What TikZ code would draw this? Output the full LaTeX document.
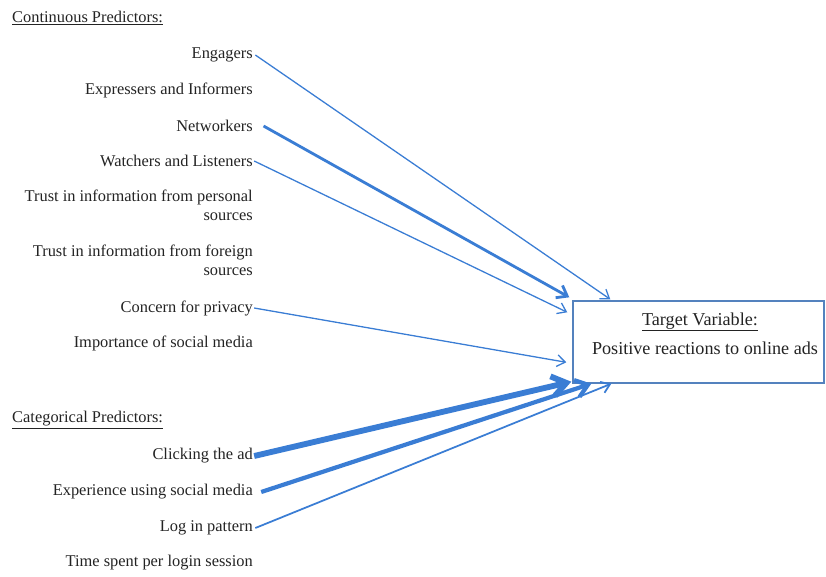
\documentclass[tikz,border=0pt]{standalone}
\usepackage{fontspec}
\setmainfont{Liberation Serif}
\usetikzlibrary{arrows.meta, calc}

\definecolor{arrowblue}{RGB}{58,125,212}
\definecolor{boxblue}{RGB}{84,130,190}
\definecolor{txtgray}{RGB}{35,35,35}

\begin{document}
\begin{tikzpicture}[x=0.03cm, y=-0.03cm,
  % Node styles
  pred/.style={anchor=east, align=right, inner sep=0pt, text=txtgray,
               font=\fontsize{14}{16.5}\selectfont},
  group/.style={anchor=west, inner sep=0pt, text=txtgray,
                font=\fontsize{14}{16.5}\selectfont},
  boxtext/.style={inner sep=0pt, text=txtgray, font=\fontsize{15.5}{18}\selectfont},
  targetbox/.style={draw=boxblue, line width=1.2pt, minimum width=7.53cm,
                    minimum height=2.46cm, inner sep=0pt},
  % Arrow styles
  arr/.style={-{Straight Barb[length=7pt, width=10pt]}, arrowblue, line width=1.1pt},
  midarr/.style={-{Straight Barb[length=8pt, width=12pt]}, arrowblue, line width=2.4pt},
  fatarr/.style={-{Straight Barb[length=10pt, width=15pt]}, arrowblue, line width=3.6pt},
  hugearr/.style={-{Straight Barb[length=12pt, width=17pt]}, arrowblue, line width=5pt},
]
  \useasboundingbox (0,0) rectangle (826,576);

  % ── Group headings ──
  \node[group] (cont) at (12,18) {\underline{Continuous Predictors:}};
  \node[group] (cat) at (12,420) {\underline{Categorical Predictors:}};

  % ── Continuous predictors ──
  \node[pred] (eng) at (253,55) {Engagers};
  \node[pred] (expr) at (253,90) {Expressers and Informers};
  \node[pred] (net) at (253,126) {Networkers};
  \node[pred] (watch) at (253,161) {Watchers and Listeners};
  \node[pred] (perstrust) at (253,205) {Trust in information from personal\\sources};
  \node[pred] (fortrust) at (253,260) {Trust in information from foreign\\sources};
  \node[pred] (privacy) at (253,308) {Concern for privacy};
  \node[pred] (importance) at (253,343) {Importance of social media};

  % ── Categorical predictors ──
  \node[pred] (click) at (253,456) {Clicking the ad};
  \node[pred] (experience) at (253,492) {Experience using social media};
  \node[pred] (login) at (253,528) {Log in pattern};
  \node[pred] (session) at (253,563) {Time spent per login session};

  % ── Target variable box ──
  \node[targetbox] (target) at (698.5,342) {};
  \node[boxtext] (ttitle) at (700,322) {\underline{Target Variable:}};
  \node[boxtext] (tbody) at (705,348) {Positive reactions to online ads};

  % ── Arrow end points on the box ──
  \coordinate (tengage) at ($(target.north west)+(38,-1)$);
  \coordinate (tnet) at ($(target.north west)+(-3,-3)$);
  \coordinate (twatch) at ($(target.north west)+(-5,12)$);
  \coordinate (tprivacy) at ($(target.north west)+(-6,62)$);
  \coordinate (tclick) at ($(target.south west)+(-1,-2)$);
  \coordinate (texp) at ($(target.south west)+(19,0)$);
  \coordinate (tlogin) at ($(target.south west)+(39,0)$);

  % ── Arrows: continuous predictors ──
  \draw[arr] ([xshift=2pt]eng.east) -- (tengage);
  \draw[midarr] ([xshift=9pt]net.east) -- (tnet);
  \draw[arr] ([xshift=1pt]watch.east) -- (twatch);
  \draw[arr] ([xshift=1pt]privacy.east) -- (tprivacy);

  % ── Arrows: categorical predictors ──
  \draw[hugearr] ([xshift=1pt]click.east) -- (tclick);
  \draw[fatarr] ([xshift=7pt]experience.east) -- (texp);
  \draw[arr, line width=1.5pt] ([xshift=2pt]login.east) -- (tlogin);

\end{tikzpicture}
\end{document}
